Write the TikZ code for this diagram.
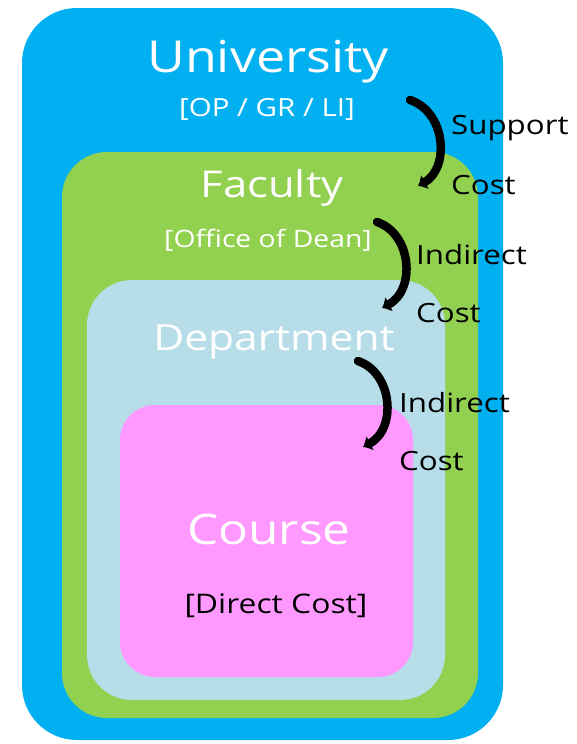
\documentclass[tikz,border=0pt]{standalone}
\usepackage{fontspec}
\setmainfont{Open Sans}[FakeStretch=1.18]
\usetikzlibrary{calc}
\usetikzlibrary{arrows.meta}
\definecolor{unicol}{RGB}{0,176,240}
\definecolor{faccol}{RGB}{146,208,80}
\definecolor{depcol}{RGB}{183,221,232}
\definecolor{crscol}{RGB}{255,153,255}
\newcommand{\fs}[1]{\fontsize{#1}{#1}\selectfont}
\tikzset{
	levelbox/.style={rectangle, rounded corners=#1, inner sep=0pt},
	title/.style={text=white, inner sep=0pt},
	costlabel/.style={anchor=west, inner sep=0pt, text=black, font=\fs{26.5}},
	costarrow/.style={line width=8.5pt, line cap=round, -{Latex[length=8pt,width=17pt]}},
}

\begin{document}
\begin{tikzpicture}[x=1pt,y=-1pt]
\useasboundingbox (0,0) rectangle (576,744);
% nested boxes
\node[levelbox=55pt, fill=unicol, minimum width=481pt, minimum height=732pt] at (262.5,374) (univ) {};
\node[levelbox=45pt, fill=faccol, minimum width=416pt, minimum height=566pt] at (270,435) (fac) {};
\node[levelbox=45pt, fill=depcol, minimum width=358pt, minimum height=420pt] at (266,490) (dep) {};
\node[levelbox=35pt, fill=crscol, minimum width=293pt, minimum height=272pt] at (266.5,541) (crs) {};
% titles
\node[title, font=\fs{44}] at (268,62) (univt) {University};
\node[title, font=\fs{25}] at (267,109) (univs) {[OP / GR / LI]};
\node[title, font=\fs{24}] at (268,240) (facs) {[Office of Dean]};
\node[title, font=\fs{37}] at (272,188) (fact) {Faculty};
\node[title, font=\fs{36}] at (274,342) (dept) {Department};
\node[title, font=\fs{42}] at (269,529) (crst) {Course};
\node[title, text=black, font=\fs{27}] at (276,606) (crss) {[Direct Cost]};
% cost arrows
\coordinate (s1) at (410,100);
\coordinate (e1) at (418,186);
\draw[costarrow] (s1) .. controls (446,112) and (450,168) .. (e1);
\node[costlabel] at (451,128) (sup) {Support};
\node[costlabel] at (451,185) (supc) {Cost};
\coordinate (s2) at (377,222);
\coordinate (e2) at (382,308);
\draw[costarrow] (s2) .. controls (412,234) and (416,290) .. (e2);
\node[costlabel] at (416,255) (ind1) {Indirect};
\node[costlabel] at (416,313) (ind1c) {Cost};
\coordinate (s3) at (358,361);
\coordinate (e3) at (363,447);
\draw[costarrow] (s3) .. controls (393,373) and (397,429) .. (e3);
\node[costlabel] at (399,403) (ind2) {Indirect};
\node[costlabel] at (399,461) (ind2c) {Cost};
\end{tikzpicture}
\end{document}
